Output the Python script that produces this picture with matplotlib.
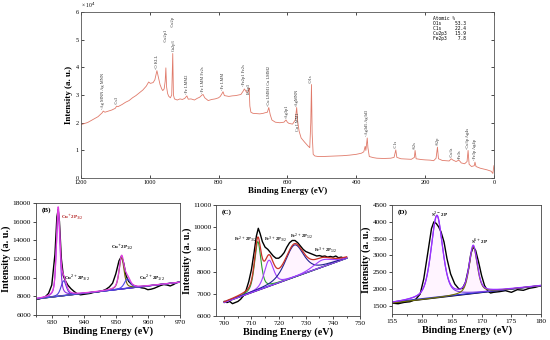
import numpy as np
import matplotlib
matplotlib.use("Agg")
import matplotlib.pyplot as plt
from matplotlib.ticker import MultipleLocator

plt.rcParams['font.family'] = ['Liberation Serif', 'DejaVu Serif']

# ---- survey spectrum (binding energy, intensity x1e4) ----
survey_be = [1200, 1190, 1180, 1170, 1160, 1150, 1145, 1138, 1135, 1130, 1120, 1110, 1100,
             1096, 1092, 1080, 1070, 1060, 1050, 1040, 1030, 1020, 1010, 1003, 998, 990, 985,
             979, 975, 970, 965, 962, 958, 955, 953, 951, 948, 945, 940, 936, 933, 931, 928,
             920, 912, 905, 898, 892, 888, 880, 870, 862, 855, 848, 845, 840, 830, 820, 810,
             800, 795, 790, 787, 783, 775, 770, 760, 750, 742, 735, 728, 725, 721, 719, 716,
             713, 711, 709, 706, 700, 690, 680, 670, 665, 658, 654, 650, 645, 635, 622, 610,
             604, 600, 596, 585, 577, 573, 570, 566, 560, 550, 540, 535, 532, 530, 528, 525,
             520, 510, 500, 480, 460, 440, 420, 400, 385, 378, 374, 372, 368, 366, 362, 350,
             340, 320, 300, 290, 285, 282, 270, 255, 240, 231, 229, 226, 210, 200, 185, 175,
             168, 164, 161, 150, 140, 130, 124, 120, 110, 102, 98, 95, 85, 78, 75, 72, 65,
             57, 55, 52, 40, 30, 20, 8, 3, 0]
survey_int = [1.93, 1.97, 2.01, 2.08, 2.15, 2.22, 2.28, 2.36, 2.42, 2.38, 2.42, 2.46, 2.52,
              2.60, 2.58, 2.66, 2.74, 2.80, 2.90, 2.98, 3.08, 3.18, 3.32, 3.47, 3.42, 3.45, 3.55,
              3.88, 3.65, 3.38, 3.22, 3.16, 3.22, 3.50, 3.98, 3.30, 3.06, 2.96, 2.90, 3.00, 4.50,
              3.00, 2.86, 2.82, 2.86, 2.84, 2.88, 2.97, 2.85, 2.86, 2.82, 2.88, 2.92, 3.00, 3.02,
              2.90, 2.80, 2.84, 2.86, 2.90, 2.95, 3.05, 3.12, 2.98, 2.96, 2.95, 2.97, 2.98, 3.00,
              3.02, 3.15, 3.22, 3.15, 3.10, 3.10, 3.15, 3.25, 2.60, 2.38, 2.34, 2.33, 2.32, 2.34,
              2.36, 2.38, 2.55, 2.30, 2.10, 2.02, 2.00, 2.02, 2.10, 2.02, 1.98, 1.95, 2.10, 2.55,
              2.05, 1.70, 1.45, 1.30, 1.16, 1.10, 2.00, 3.38, 1.60, 0.86, 0.80, 0.78, 0.78, 0.79,
              0.80, 0.81, 0.83, 0.86, 0.90, 0.95, 1.15, 1.00, 1.45, 1.10, 0.78, 0.74, 0.72, 0.71,
              0.72, 0.75, 1.02, 0.75, 0.70, 0.69, 0.68, 0.75, 1.00, 0.70, 0.67, 0.66, 0.65, 0.63,
              0.72, 1.12, 0.70, 0.64, 0.63, 0.62, 0.70, 0.66, 0.60, 0.65, 0.60, 0.55, 0.52, 0.60,
              1.00, 0.50, 0.42, 0.45, 0.58, 0.42, 0.36, 0.33, 0.30, 0.25, 0.17, 0.45]

survey_labels = [(1136, 2.50, "-Ag MNN Ag MNN"), (1096, 2.66, "-Cs3"), (979, 3.95, "-O KLL"),
                 (953, 4.90, "-Cu2p1"), (933, 5.45, "-Cu2p"), (931, 4.58, "Cu2p3"),
                 (892, 3.02, "-Fe LMM2"), (845, 3.08, "-Fe LMM Fe2s"), (787, 3.17, "-Fe LMM"),
                 (727, 3.32, "-Fe2p1 Fe2s"), (711, 3.05, "Fe2p3"),
                 (654, 2.62, "-Cu LMM1 Cu LMM2"), (601, 2.16, "-Ag3p1"),
                 (573, 2.62, "-AgMNN"), (568, 1.70, "Cu LMM1"), (531, 3.45, "-O1s"),
                 (370, 1.52, "-Ag3d5 Ag3d3"), (285, 1.08, "-C1s"), (229, 1.06, "-S2s"),
                 (163, 1.18, "-S2p"), (122, 0.78, "-Cu3s"), (100, 0.68, "-Fe3s"),
                 (75, 1.06, "-Cu3p Ag4s"), (55, 0.64, "-Fe3p Ag4p")]
atomic_text = "Atomic %\nO1s     53.3\nC1s     22.4\nCu2p3   15.9\nFe2p3    7.8"

# ---- Cu 2p ----
cu_be = [925, 926, 927, 928, 929, 930, 931, 931.6, 932, 932.4, 933, 933.6, 934.2, 935, 936,
         937, 938, 939, 940, 941, 942, 943, 944, 945, 946, 947, 948, 949, 950, 951, 951.8,
         952.5, 953.2, 954, 955, 956, 957, 958, 959, 960, 961, 962, 963, 964, 965, 966, 967,
         968, 969, 970]
cu_int = [7650, 7700, 7800, 7950, 8300, 9200, 12500, 16500, 17300, 16000, 12000, 10200, 9700,
          9200, 8800, 8500, 8250, 8150, 8200, 8250, 8300, 8400, 8450, 8500, 8600, 8750, 9000,
          9400, 10400, 11800, 12300, 11500, 10200, 9600, 9250, 9100, 9000, 8900, 8850, 8700,
          8750, 8850, 9000, 9150, 9250, 9200, 9100, 9250, 9450, 9550]
cu_bg = [(925, 7700), (970, 9500)]
cu_center = [932.0, 933.7, 951.8, 953.6]
cu_height = [9300, 1600, 3400, 1000]
cu_fwhm = [1.3, 2.0, 1.8, 2.2]
cu_colors = ['#8a2be2', '#4b3fd8', '#6b6b00', '#4a4ae6']
cu_labels = [(932.9, 16500, "Cu$^{+}$2P$_{3/2}$", '#b01818'),
             (933.8, 10000, "Cu$^{2+}$2P$_{3/2}$", 'black'),
             (948.4, 13200, "Cu$^{+}$2P$_{1/2}$", 'black'),
             (957.2, 10000, "Cu$^{2+}$2P$_{1/2}$", 'black')]

# ---- Fe 2p ----
fe_be = [700, 701, 702, 703, 704, 705, 706, 707, 708, 709, 710, 711, 711.8, 712.5, 713.2, 714,
         715, 716, 717, 718, 719, 720, 721, 722, 723, 724, 725, 726, 727, 728, 729, 730, 731,
         732, 733, 734, 735, 736, 737, 738, 739, 740, 741, 742, 743, 744, 745]
fe_int = [6650, 6600, 6650, 6550, 6600, 6650, 6750, 6900, 7150, 7550, 8100, 8900, 9600, 9950,
          9700, 9350, 9100, 9000, 8850, 8700, 8600, 8600, 8700, 8850, 9100, 9300, 9400, 9400,
          9300, 9150, 9000, 8900, 8850, 8800, 8750, 8700, 8720, 8680, 8700, 8650, 8680, 8650,
          8700, 8620, 8650, 8600, 8600]
fe_bg = [(700, 6600), (745, 8600)]
fe_center = [712.3, 716.4, 725.8, 736.0]
fe_height = [2200, 1180, 1450, 320]
fe_fwhm = [2.8, 4.0, 8.0, 8.0]
fe_colors = ['#2ca02c', '#a040ff', '#202090', '#a040ff']
fe_labels = [(703.5, 9470, "Fe$^{2+}$ 2P$_{3/2}$", 'black'),
             (714.6, 9470, "Fe$^{3+}$ 2P$_{3/2}$", 'black'),
             (724.0, 9600, "Fe$^{2+}$ 2P$_{1/2}$", 'black'),
             (733.0, 8980, "Fe$^{3+}$ 2P$_{1/2}$", 'black')]

# ---- S 2p ----
s_be = [155, 156, 157, 158, 159, 159.7, 160.3, 161, 161.6, 162, 162.4, 162.8, 163.2, 163.7,
        164.2, 164.8, 165.5, 166.2, 166.8, 167.3, 167.8, 168.2, 168.6, 169.0, 169.5, 170,
        170.5, 171, 171.5, 172, 173, 174, 175, 176, 177, 178, 179, 180]
s_int = [1580, 1560, 1600, 1620, 1700, 1850, 2300, 3100, 3800, 4000, 3950, 3850, 3700, 3400,
         2900, 2450, 2150, 2000, 2020, 2200, 2600, 3050, 3250, 3150, 2800, 2400, 2100, 1950,
         1880, 1900, 1920, 1950, 1900, 1980, 1960, 2020, 2050, 2100]
s_bg = [(155, 1580), (180, 2100)]
s_center = [162.5, 168.6]
s_height = [2450, 1400]
s_fwhm = [2.3, 1.6]
s_colors = ['#7b3fe4', '#707000']
s_labels = [(161.6, 4220, "S$^{2-}$2P", 'black'), (168.3, 3420, "S$^{6+}$2P", 'black')]


def pv(x, c, h, w, m=0.5):
    d = (x - c) / w
    return h * (m / (1 + 4 * d ** 2) + (1 - m) * np.exp(-4 * np.log(2) * d ** 2))


def fit_panel(ax, be, inten, bg, centers, heights, fwhms, colors, env_color, labels, tag,
              label_size=3.6):
    x = np.linspace(bg[0][0], bg[1][0], 600)
    base = np.interp(x, [bg[0][0], bg[1][0]], [bg[0][1], bg[1][1]])
    comps = [pv(x, c, h, w) for c, h, w in zip(centers, heights, fwhms)]
    env = base + np.sum(comps, axis=0)
    ax.fill_between(x, base, env, color='#ffd6ff', alpha=0.25, lw=0)
    ax.plot(be, inten, color='black', lw=1.0)
    ax.plot([bg[0][0], bg[1][0]], [bg[0][1], bg[1][1]], color='black', lw=0.8)
    ax.plot([bg[0][0], bg[1][0]], [bg[0][1] + 30, bg[1][1]], color='#3030d0', lw=1.0)
    for comp, col in zip(comps, colors):
        ax.plot(x, base + comp, color=col, lw=0.8)
    ax.plot(x, env, color=env_color, lw=0.9)
    for lx, ly, txt, col in labels:
        ax.text(lx, ly, txt, fontsize=label_size, fontweight='bold', ha='left', va='center',
                color=col)
    ax.text(0.04, 0.96, tag, transform=ax.transAxes, fontsize=5, fontweight='bold',
            ha='left', va='top')
    ax.set_xlabel("Binding Energy (eV)", fontsize=7.3, fontweight='bold', labelpad=1)
    ax.tick_params(labelsize=5.3, length=2, width=0.5, pad=1.5)
    ax.tick_params(which='minor', length=1.2, width=0.5)
    for sp in ax.spines.values():
        sp.set_linewidth(0.6)
        sp.set_color('#444444')


fig = plt.figure(figsize=(5.5, 3.4), dpi=100)

# top survey
ax = fig.add_axes([0.147, 0.476, 0.751, 0.489])
ax.plot(survey_be, survey_int, color='#e07a6a', lw=0.6)
for bx, by, txt in survey_labels:
    ax.text(bx, by, txt, rotation=90, fontsize=3.2, ha='center', va='bottom', color='#333333')
ax.text(0.853, 0.975, atomic_text, transform=ax.transAxes, fontsize=3.3, family='monospace',
        va='top', ha='left', linespacing=1.0)
ax.text(0.0, 1.01, "× 10$^4$", transform=ax.transAxes, fontsize=4, ha='left', va='bottom')
ax.set_xlim(1200, 0)
ax.set_ylim(0, 6)
ax.set_xticks([1200, 1000, 800, 600, 400, 200, 0])
ax.set_yticks([0, 1, 2, 3, 4, 5, 6])
ax.tick_params(direction='in', top=True, right=True, labelsize=4.5, length=2, width=0.5, pad=1.5)
ax.set_xlabel("Binding Energy (eV)", fontsize=6.5, fontweight='bold', labelpad=1)
ax.set_ylabel("Intensity (a. u.)", fontsize=6.5, fontweight='bold', labelpad=2)
for sp in ax.spines.values():
    sp.set_linewidth(0.6)
    sp.set_color('#555555')

# (B) Cu 2p
axb = fig.add_axes([0.065, 0.074, 0.262, 0.329])
fit_panel(axb, cu_be, cu_int, cu_bg, cu_center, cu_height, cu_fwhm, cu_colors, '#e040e0',
          cu_labels, "(B)")
axb.set_xlim(925, 970)
axb.set_ylim(6000, 18000)
axb.set_xticks([930, 940, 950, 960, 970])
axb.set_yticks(range(6000, 18001, 2000))
axb.xaxis.set_minor_locator(MultipleLocator(5))
axb.set_ylabel("Intensity (a. u.)", fontsize=7.3, fontweight='bold', labelpad=1)

# (C) Fe 2p
axc = fig.add_axes([0.393, 0.071, 0.262, 0.326])
fit_panel(axc, fe_be, fe_int, fe_bg, fe_center, fe_height, fe_fwhm, fe_colors, '#c83228',
          fe_labels, "(C)", label_size=3.2)
axc.set_xlim(697, 750)
axc.set_ylim(6000, 11000)
axc.set_xticks([700, 710, 720, 730, 740, 750])
axc.set_yticks(range(6000, 11001, 1000))
axc.xaxis.set_minor_locator(MultipleLocator(5))
axc.set_ylabel("Intensity (a. u.)", fontsize=7.3, fontweight='bold', labelpad=1)

# (D) S 2p
axd = fig.add_axes([0.713, 0.076, 0.271, 0.321])
fit_panel(axd, s_be, s_int, s_bg, s_center, s_height, s_fwhm, s_colors, '#9b30ff',
          s_labels, "(D)")
axd.set_xlim(155, 180)
axd.set_ylim(1250, 4500)
axd.set_xticks([155, 160, 165, 170, 175, 180])
axd.set_yticks(range(1500, 4501, 500))
axd.xaxis.set_minor_locator(MultipleLocator(2.5))
axd.set_ylabel("Intensity (a. u.)", fontsize=7.3, fontweight='bold', labelpad=1)

fig.savefig("out.png", dpi=100)
